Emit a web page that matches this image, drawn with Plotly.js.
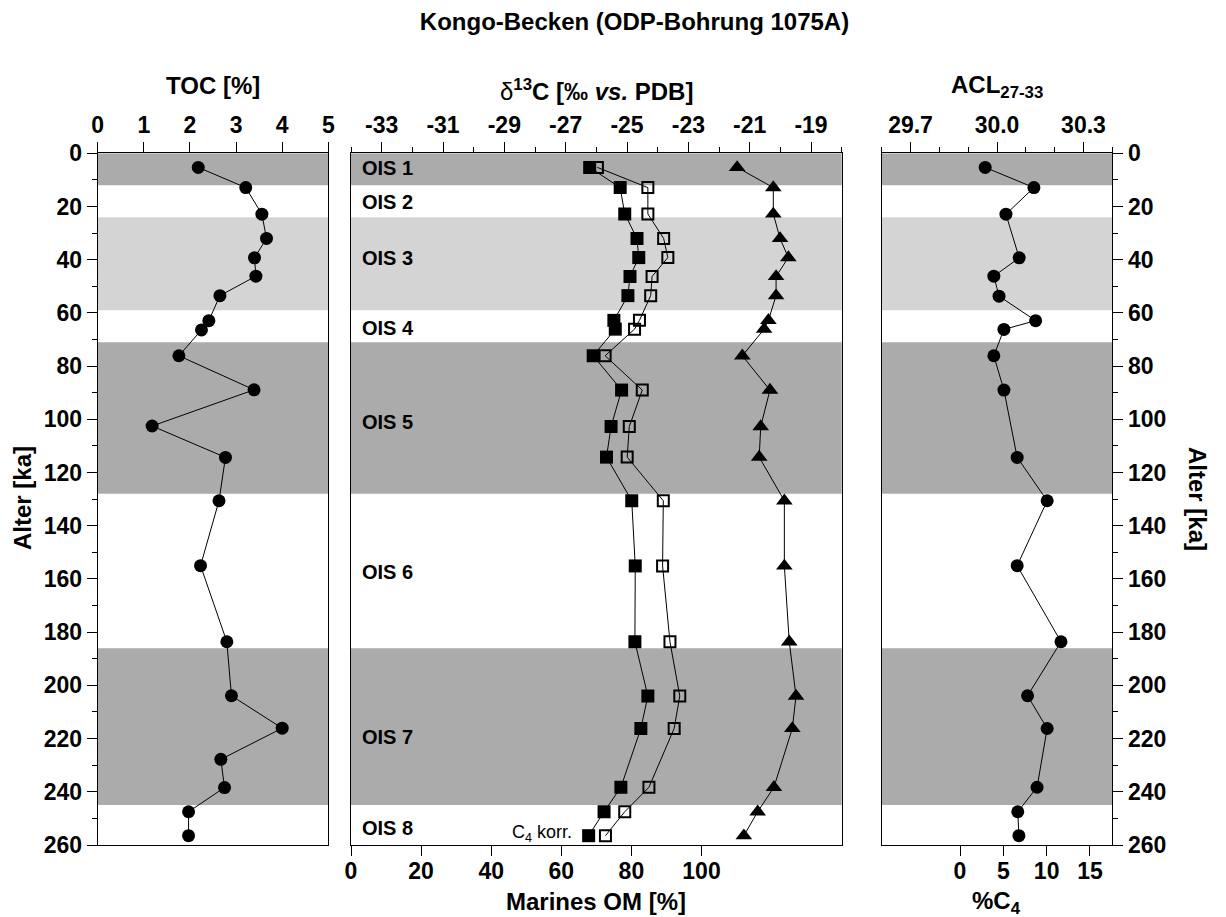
<!DOCTYPE html>
<html>
<head>
<meta charset="utf-8">
<script src="https://cdn.plot.ly/plotly-3.0.1.min.js"></script>
<style>html,body{margin:0;padding:0;background:#fff;}</style>
</head>
<body>
<div id="chart" style="width:1226px;height:917px;"></div>
<script>
// ---------------- data ----------------
// OIS stage boundaries (ka) and shading
const oisBounds = [0, 12, 24, 59, 71, 128, 186, 245, 260];
const oisShade = ['dark', 'none', 'light', 'none', 'dark', 'none', 'dark', 'none'];
const oisLabels = ['OIS 1', 'OIS 2', 'OIS 3', 'OIS 4', 'OIS 5', 'OIS 6', 'OIS 7', 'OIS 8'];

// TOC panel
const tocAge = [5.3, 12.9, 22.9, 32.0, 39.3, 46.2, 53.5, 62.9, 66.4, 76.1, 88.9, 102.5, 114.3, 130.6, 155.0, 183.6, 203.9, 216.1, 227.8, 238.4, 247.5, 256.5];
const toc = [2.18, 3.21, 3.56, 3.66, 3.40, 3.43, 2.65, 2.41, 2.25, 1.76, 3.39, 1.18, 2.77, 2.63, 2.23, 2.80, 2.90, 4.00, 2.67, 2.75, 1.97, 1.97];

// delta13C / marine OM panel
const d13cAge = [5.3, 12.9, 22.8, 32.0, 39.2, 46.3, 53.5, 62.8, 66.1, 76.1, 89.0, 102.7, 114.2, 130.6, 155.1, 183.6, 204.0, 216.2, 238.3, 247.5, 256.5];
const marineOM = [68.1, 76.8, 78.1, 81.6, 82.1, 79.6, 79.0, 75.0, 75.4, 69.1, 77.2, 74.2, 72.9, 80.1, 81.1, 81.0, 84.7, 82.7, 77.0, 72.2, 67.8];
const marineOMC4 = [70.3, 84.7, 84.7, 89.2, 90.4, 85.9, 85.5, 82.3, 80.9, 72.5, 83.1, 79.4, 78.8, 89.1, 88.9, 91.0, 93.8, 92.2, 85.0, 78.1, 72.6];
const d13c = [-21.41, -20.23, -20.23, -20.01, -19.74, -20.14, -20.14, -20.39, -20.53, -21.24, -20.34, -20.64, -20.69, -19.87, -19.87, -19.71, -19.49, -19.61, -20.21, -20.74, -21.19];

// ACL panel
const aclAge = [5.3, 12.9, 22.9, 39.3, 46.2, 53.7, 62.9, 66.2, 76.1, 89.0, 114.3, 130.6, 155.0, 183.6, 203.9, 216.2, 238.3, 247.5, 256.5];
const acl = [29.959, 30.128, 30.031, 30.077, 29.989, 30.007, 30.134, 30.024, 29.989, 30.024, 30.070, 30.174, 30.070, 30.222, 30.106, 30.174, 30.139, 30.072, 30.076];

// tick labels
const tocTicks = [0, 1, 2, 3, 4, 5];
const d13cTicks = [-33, -31, -29, -27, -25, -23, -21, -19];
const d13cTickText = ['-33', '-31', '-29', '-27', '-25', '-23', '-21', '-19'];
const omTicks = [0, 20, 40, 60, 80, 100];
const aclTicks = [29.7, 30.0, 30.3];
const aclTickText = ['29.7', '30.0', '30.3'];
const c4Ticks = [0, 5, 10, 15];

// ---------------- layout helpers ----------------
const W = 1226, H = 917;
const px = v => v / W;
const py = v => 1 - v / H;

const FONT = 'Liberation Sans, Arial, Helvetica, sans-serif';
const BLACK = '#000000';
const DARK = '#ababab';
const LIGHT = '#d4d4d4';

const dom1 = [px(97.7), px(328.3)];
const dom2 = [px(351), px(841.7)];
const dom3 = [px(881.7), px(1112.3)];
const domY = [py(845), py(153.3)];

const tickFont = {family: FONT, size: 23, color: BLACK, weight: 'bold'};

function baseAxis(extra) {
  return Object.assign({
    showline: true, linecolor: BLACK, linewidth: 1,
    ticks: 'outside', ticklen: 10, tickwidth: 1, tickcolor: BLACK,
    showgrid: false, zeroline: false, fixedrange: true,
    tickfont: tickFont
  }, extra);
}

const ageAxis = (extra) => baseAxis(Object.assign({
  domain: domY, range: [260, 0], tick0: 0, dtick: 20,
  minor: {dtick: 10, ticklen: 5, ticks: 'outside', tickcolor: BLACK, tickwidth: 1}
}, extra));

// ---------------- traces ----------------
const lineStyle = {color: BLACK, width: 1};
const traces = [
  {x: toc, y: tocAge, xaxis: 'x', yaxis: 'y', type: 'scatter', mode: 'lines+markers', name: 'TOC',
   line: lineStyle, marker: {symbol: 'circle', size: 13, color: BLACK}},
  {x: marineOM, y: d13cAge, xaxis: 'x3', yaxis: 'y2', type: 'scatter', mode: 'lines+markers', name: 'Marines OM',
   line: lineStyle, marker: {symbol: 'square', size: 13, color: BLACK}},
  {x: marineOMC4, y: d13cAge, xaxis: 'x3', yaxis: 'y2', type: 'scatter', mode: 'lines+markers', name: 'Marines OM (C4 korr.)',
   line: lineStyle, marker: {symbol: 'square-open', size: 11, color: BLACK, line: {width: 2, color: BLACK}}},
  {x: d13c, y: d13cAge, xaxis: 'x2', yaxis: 'y2', type: 'scatter', mode: 'lines+markers', name: 'δ13C',
   line: lineStyle, marker: {symbol: 'triangle-up', size: 14.5, color: BLACK}},
  {x: acl, y: aclAge, xaxis: 'x4', yaxis: 'y3', type: 'scatter', mode: 'lines+markers', name: 'ACL',
   line: lineStyle, marker: {symbol: 'circle', size: 13, color: BLACK}},
  // empty trace so that the %C4 scale (secondary axis of the ACL panel) is drawn
  {x: [null], y: [null], xaxis: 'x5', yaxis: 'y3', type: 'scatter', mode: 'markers', name: '%C4',
   marker: {size: 1, opacity: 0}, hoverinfo: 'skip'}
];

// ---------------- shapes (OIS bands) ----------------
const shapes = [];
[['x', 'y'], ['x2', 'y2'], ['x4', 'y3']].forEach(([xa, ya]) => {
  for (let i = 0; i < oisShade.length; i++) {
    if (oisShade[i] === 'none') continue;
    shapes.push({
      type: 'rect', layer: 'below', xref: xa + ' domain', yref: ya,
      x0: 0, x1: 1, y0: oisBounds[i], y1: oisBounds[i + 1],
      fillcolor: oisShade[i] === 'dark' ? DARK : LIGHT, line: {width: 0}
    });
  }
});

// ---------------- annotations ----------------
const titleFont = {family: FONT, size: 24, color: BLACK, weight: 'bold'};
const oisLabelAge = [5.5, 18.3, 39.3, 65.7, 100.9, 157.3, 219.3, 253.7];
const annotations = [
  {text: 'TOC [%]', x: px(212.5), y: py(85), xref: 'paper', yref: 'paper', xanchor: 'center', yanchor: 'middle', showarrow: false, font: titleFont},
  {text: '<span style="font-weight:normal">δ</span><sup>13</sup>C [‰ <i>vs.</i> PDB]', x: px(596), y: py(90), xref: 'paper', yref: 'paper', xanchor: 'center', yanchor: 'middle', showarrow: false, font: titleFont},
  {text: 'ACL<sub>27-33</sub>', x: px(996.7), y: py(86.8), xref: 'paper', yref: 'paper', xanchor: 'center', yanchor: 'middle', showarrow: false, font: titleFont},
  {text: 'Marines OM [%]', x: px(596), y: py(901), xref: 'paper', yref: 'paper', xanchor: 'center', yanchor: 'middle', showarrow: false, font: titleFont},
  {text: '%C<sub>4</sub>', x: px(996.7), y: py(902.5), xref: 'paper', yref: 'paper', xanchor: 'center', yanchor: 'middle', showarrow: false, font: titleFont},
  {text: 'Alter [ka]', x: px(22), y: py(498), xref: 'paper', yref: 'paper', xanchor: 'center', yanchor: 'middle', textangle: -90, showarrow: false, font: titleFont},
  {text: 'Alter [ka]', x: px(1198), y: py(499), xref: 'paper', yref: 'paper', xanchor: 'center', yanchor: 'middle', textangle: 90, showarrow: false, font: titleFont},
  {text: 'C<sub>4</sub> korr.', x: px(574), y: py(833.4), xref: 'paper', yref: 'paper', xanchor: 'right', yanchor: 'middle', showarrow: false,
   font: {family: FONT, size: 18, color: BLACK}}
];
oisLabels.forEach((lab, i) => {
  annotations.push({text: lab, x: px(359.7), y: oisLabelAge[i], xref: 'paper', yref: 'y2', xanchor: 'left', yanchor: 'middle',
    showarrow: false, font: {family: FONT, size: 20, color: BLACK, weight: 'bold'}});
});

// ---------------- layout ----------------
const layout = {
  width: W, height: H,
  margin: {l: 0, r: 0, t: 0, b: 0, pad: 0},
  paper_bgcolor: '#ffffff', plot_bgcolor: 'rgba(0,0,0,0)',
  showlegend: false, hovermode: false,
  font: {family: FONT, color: BLACK},
  title: {text: 'Kongo-Becken (ODP-Bohrung 1075A)', x: px(634.5), xanchor: 'center', xref: 'paper',
          y: py(22), yanchor: 'middle', yref: 'paper', font: titleFont},
  xaxis: baseAxis({domain: dom1, range: [0, 5], side: 'top', anchor: 'y', mirror: true, tickmode: 'array', tickvals: tocTicks}),
  yaxis: ageAxis({anchor: 'x', side: 'left', mirror: true}),
  xaxis2: baseAxis({domain: dom2, range: [-34, -18], side: 'top', anchor: 'y2', mirror: true,
    tickmode: 'array', tickvals: d13cTicks, ticktext: d13cTickText,
    minor: {tickmode: 'linear', tick0: -34, dtick: 1, ticklen: 5, ticks: 'outside', tickcolor: BLACK, tickwidth: 1}}),
  xaxis3: baseAxis({overlaying: 'x2', range: [0, 140], side: 'bottom', anchor: 'y2', showline: false,
    tickmode: 'array', tickvals: omTicks, ticklabelstandoff: -5}),
  yaxis2: baseAxis({domain: domY, range: [260, 0], anchor: 'x2', side: 'left', mirror: true, ticks: '', showticklabels: false}),
  xaxis4: baseAxis({domain: dom3, range: [29.6, 30.4], side: 'top', anchor: 'y3', mirror: true,
    tickmode: 'array', tickvals: aclTicks, ticktext: aclTickText,
    minor: {tickmode: 'linear', tick0: 29.6, dtick: 0.1, ticklen: 5, ticks: 'outside', tickcolor: BLACK, tickwidth: 1}}),
  xaxis5: baseAxis({overlaying: 'x4', range: [-9.04, 17.58], side: 'bottom', anchor: 'y3', showline: false,
    tickmode: 'array', tickvals: c4Ticks, ticklabelstandoff: -5}),
  yaxis3: ageAxis({anchor: 'x4', side: 'right', mirror: true}),
  shapes: shapes,
  annotations: annotations
};

Plotly.newPlot('chart', traces, layout, {staticPlot: true, displayModeBar: false});
</script>
</body>
</html>
